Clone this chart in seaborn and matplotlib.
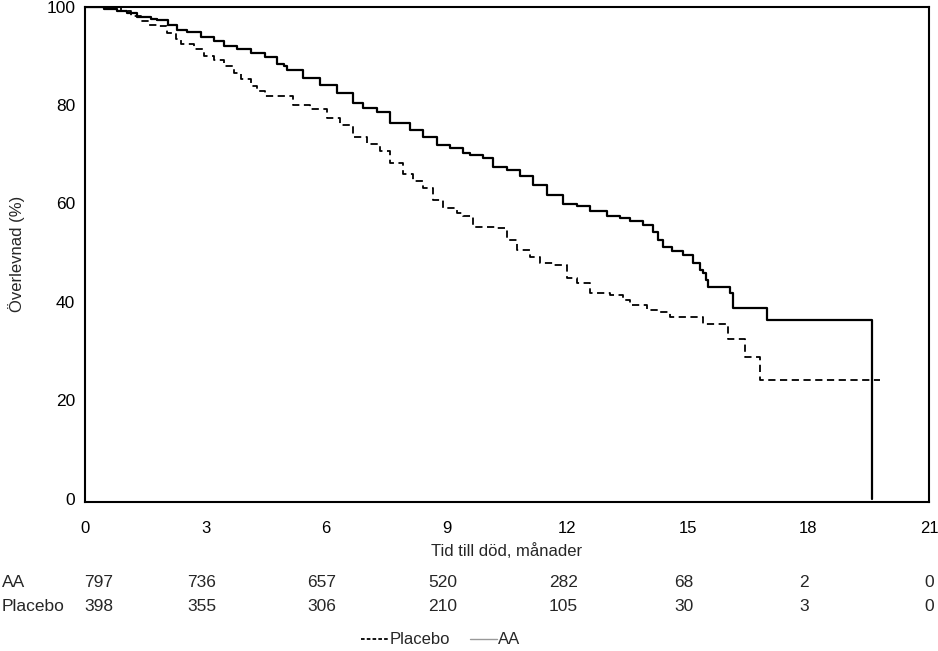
import matplotlib
matplotlib.use("Agg")
import matplotlib.pyplot as plt
from matplotlib.lines import Line2D
from matplotlib.transforms import blended_transform_factory
import seaborn as sns
import pandas as pd

# Kaplan-Meier steps (month, survival %)
aa_time = [0, 0.47, 0.8, 1.04, 1.29, 1.64, 1.79, 2.06, 2.29, 2.54, 2.89, 3.21,
           3.46, 3.78, 4.13, 4.48, 4.78, 4.95, 5.02, 5.42, 5.85, 6.27, 6.67,
           6.92, 7.26, 7.59, 8.08, 8.41, 8.76, 9.08, 9.4, 9.58, 9.9, 10.15,
           10.5, 10.82, 11.14, 11.49, 11.89, 12.24, 12.56, 12.99, 13.31, 13.56,
           13.88, 14.13, 14.25, 14.38, 14.6, 14.88, 15.12, 15.3, 15.37, 15.45,
           15.5, 16.04, 16.12, 16.97, 19.58]
aa_surv = [100, 99.5, 99.0, 98.6, 97.9, 97.4, 97.2, 96.3, 95.3, 94.8, 93.8, 92.9,
           91.9, 91.4, 90.6, 89.8, 88.4, 87.9, 87.2, 85.5, 84.1, 82.5, 80.4,
           79.4, 78.5, 76.4, 75.0, 73.6, 71.9, 71.2, 70.3, 69.9, 69.2, 67.5,
           66.7, 65.5, 63.8, 61.8, 59.8, 59.4, 58.4, 57.4, 57.0, 56.4,
           55.7, 54.3, 52.6, 51.1, 50.3, 49.6, 48.0, 46.5, 45.9, 44.5,
           43.1, 41.9, 38.8, 36.4, 0]

pl_time = [0, 0.9, 1.14, 1.39, 1.59, 1.84, 2.04, 2.26, 2.39, 2.71, 2.96, 3.21,
           3.46, 3.71, 3.88, 4.13, 4.28, 4.48, 5.17, 5.6, 6.02, 6.34, 6.67, 7.01,
           7.34, 7.59, 7.91, 8.16, 8.41, 8.66, 8.91, 9.25, 9.4, 9.65, 10.25,
           10.5, 10.75, 11.07, 11.32, 11.64, 11.99, 12.24, 12.56, 13.06, 13.38,
           13.56, 13.98, 14.3, 14.55, 15.37, 16.0, 16.42, 16.79, 19.78]
pl_surv = [100, 99.0, 98.0, 97.0, 96.3, 96.1, 94.6, 93.4, 92.3, 91.3, 89.9, 89.2,
           87.9, 86.5, 85.2, 83.8, 82.8, 81.8, 80.1, 79.1, 77.4, 76.0, 73.6, 72.0,
           70.6, 68.2, 65.9, 64.5, 63.2, 60.8, 59.1, 58.1, 57.5, 55.3, 55.0,
           52.6, 50.6, 49.2, 47.9, 47.6, 44.9, 43.9, 41.8, 41.5, 40.4,
           39.4, 38.4, 37.9, 37.0, 35.6, 32.5, 28.9, 24.2, 24.2]

x_ticks = [0, 3, 6, 9, 12, 15, 18, 21]
y_ticks = [0, 20, 40, 60, 80, 100]
risk_aa = [797, 736, 657, 520, 282, 68, 2, 0]
risk_placebo = [398, 355, 306, 210, 105, 30, 3, 0]

sns.set_style("white")
plt.rcParams["font.family"] = ["Liberation Sans", "DejaVu Sans"]

fig = plt.figure(figsize=(9.38, 6.51), dpi=100)
ax = fig.add_axes([0.0906, 0.229, 0.8998, 0.761])

aa = pd.DataFrame({"t": aa_time, "s": aa_surv})
pl = pd.DataFrame({"t": pl_time, "s": pl_surv})
sns.lineplot(data=aa, x="t", y="s", ax=ax, estimator=None, sort=False,
             drawstyle="steps-post", color="black", lw=1.6)
sns.lineplot(data=pl, x="t", y="s", ax=ax, estimator=None, sort=False,
             drawstyle="steps-post", color="black", lw=1.3, dashes=False,
             linestyle=(0, (4, 2.5)))

ax.set_xlim(0, 21)
ax.set_ylim(-0.6, 100)
ax.set_xticks(x_ticks)
ax.set_yticks(y_ticks)
ax.tick_params(axis="both", direction="out", length=5, width=0.8,
               color="#999999", labelsize=12.5, labelcolor="black", pad=2)
ax.tick_params(axis="x", labelsize=12, pad=9)
for sp in ax.spines.values():
    sp.set_color("black")
    sp.set_linewidth(1.5)
ax.set_xlabel("Tid till död, månader", fontsize=12, labelpad=5)
ax.set_ylabel("Överlevnad (%)", fontsize=12, labelpad=15)

# number at risk table
tr = blended_transform_factory(ax.transData, fig.transFigure)
for i, (t, a, p) in enumerate(zip(x_ticks, risk_aa, risk_placebo)):
    xx = t + 0.35 if i == 0 else t - 0.1 * (i < 7)
    ax.text(xx, 0.105, str(a), transform=tr, ha="center", va="center",
            fontsize=12.5, clip_on=False)
    ax.text(xx, 0.068, str(p), transform=tr, ha="center", va="center",
            fontsize=12.5, clip_on=False)
fig.text(0.002, 0.105, "AA", ha="left", va="center", fontsize=12.5)
fig.text(0.002, 0.068, "Placebo", ha="left", va="center", fontsize=12.5)

handles = [Line2D([], [], color="black", lw=1.3, linestyle=(0, (2, 1.2))),
           Line2D([], [], color="#999999", lw=1)]
fig.legend(handles, ["Placebo", "AA"], loc="center", bbox_to_anchor=(0.47, 0.017),
           ncol=2, frameon=False, handlelength=1.6, handletextpad=0.1,
           columnspacing=1.2, fontsize=12)

fig.savefig("out.png", dpi=100)
